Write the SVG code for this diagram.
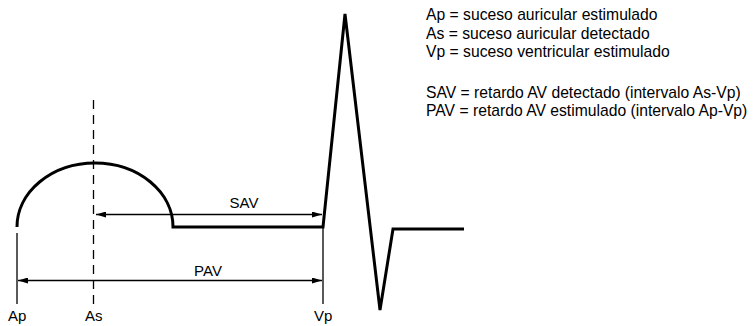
<svg xmlns="http://www.w3.org/2000/svg" width="755" height="326" viewBox="0 0 755 326">
<style>
text{font-family:"Liberation Sans",Arial,sans-serif;fill:#000}
.lg{font-size:15.7px}
.lb{font-size:15px}
.thick{fill:none;stroke:#000;stroke-width:3;stroke-linejoin:miter}
.thin{fill:none;stroke:#000;stroke-width:1.3}
.dash{fill:none;stroke:#000;stroke-width:1.3;stroke-dasharray:9,6}
</style>
<defs>
<marker id="ah" viewBox="0 0 10 6" refX="10" refY="3" markerWidth="10" markerHeight="6" markerUnits="userSpaceOnUse" orient="auto-start-reverse">
<path d="M0,0 L10,3 L0,6 Z" fill="#000"/>
</marker>
</defs>
<rect width="755" height="326" fill="#fff"/>
<g id="waveform">
<path class="thick" d="M17,227 A78,64 0 0 1 173,227 L323,227 L345,14 L380,310 L393,229 L464,229"/>
</g>
<g id="markers">
<line class="thin" x1="17" y1="233" x2="17" y2="304"/>
<line class="dash" x1="93.5" y1="100" x2="93.5" y2="304"/>
<line class="thin" x1="323" y1="227" x2="323" y2="304"/>
</g>
<g id="connectors">
<line class="thin" x1="96" y1="214.5" x2="322" y2="214.5" marker-start="url(#ah)" marker-end="url(#ah)"/>
<line class="thin" x1="18" y1="280.5" x2="322" y2="280.5" marker-start="url(#ah)" marker-end="url(#ah)"/>
</g>
<g id="interval-labels">
<text class="lb" x="244" y="208" text-anchor="middle">SAV</text>
<text class="lb" x="208" y="276" text-anchor="middle">PAV</text>
</g>
<g id="event-labels">
<text class="lb" x="8" y="321">Ap</text>
<text class="lb" x="85" y="321">As</text>
<text class="lb" x="314" y="321">Vp</text>
</g>
<g id="legend">
<text class="lg" x="426" y="20">Ap = suceso auricular estimulado</text>
<text class="lg" x="426" y="38.5">As = suceso auricular detectado</text>
<text class="lg" x="426" y="57">Vp = suceso ventricular estimulado</text>
<text class="lg" x="426" y="97.5">SAV = retardo AV detectado (intervalo As-Vp)</text>
<text class="lg" x="426" y="116">PAV = retardo AV estimulado (intervalo Ap-Vp)</text>
</g>
</svg>
